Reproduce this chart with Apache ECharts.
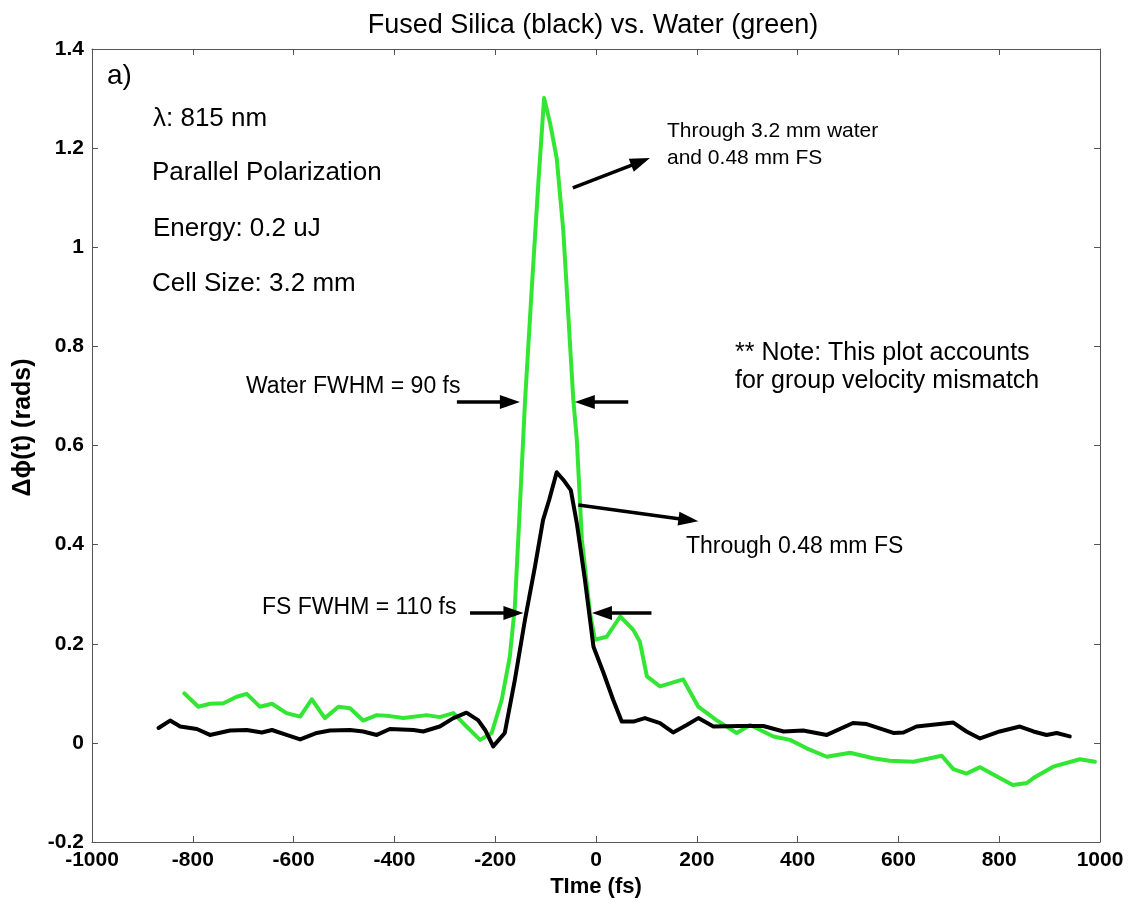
<!DOCTYPE html>
<html>
<head>
<meta charset="utf-8">
<script src="https://cdn.jsdelivr.net/npm/echarts@6/dist/echarts.min.js"></script>
<style>
  html, body { margin: 0; padding: 0; background: #ffffff; }
  #chart { width: 1136px; height: 907px; }
</style>
</head>
<body>
<div id="chart"></div>
<script>
// Fused silica (black trace): delay in fs and phase shift in rad
const fsTime = [-868, -845, -825, -792, -766, -726, -693, -663, -643, -614, -587, -554, -528, -488, -462, -435,
  -409, -362, -343, -310, -283, -257, -234, -220, -204, -181, -161, -141, -121, -105, -93, -78, -65, -50, -38,
  -22, -5, 15, 34, 51, 74, 97, 127, 153, 180, 203, 233, 286, 332, 372, 411, 458, 510, 537, 590, 610, 636, 682,
  709, 735, 762, 801, 841, 868, 894, 914, 940];
const fsPhase = [0.030, 0.045, 0.033, 0.028, 0.016, 0.025, 0.026, 0.021, 0.026, 0.016, 0.007, 0.020, 0.025, 0.026,
  0.023, 0.016, 0.028, 0.026, 0.023, 0.033, 0.050, 0.061, 0.046, 0.026, -0.007, 0.020, 0.127, 0.248, 0.356, 0.450,
  0.490, 0.546, 0.531, 0.510, 0.443, 0.329, 0.194, 0.141, 0.087, 0.043, 0.043, 0.050, 0.040, 0.021, 0.036, 0.050,
  0.033, 0.034, 0.034, 0.023, 0.025, 0.016, 0.040, 0.038, 0.020, 0.021, 0.033, 0.038, 0.041, 0.023, 0.009, 0.023,
  0.033, 0.023, 0.016, 0.020, 0.013];

// Water (green trace)
const waterTime = [-817, -789, -766, -739, -713, -693, -667, -643, -614, -587, -564, -538, -511, -488, -462, -435,
  -409, -382, -336, -310, -283, -257, -230, -207, -187, -171, -161, -151, -141, -128, -114, -103, -91, -78, -65,
  -45, -38, -28, -12, -2, 21, 48, 74, 87, 101, 127, 173, 203, 239, 279, 306, 352, 385, 418, 458, 504, 550, 583,
  630, 663, 686, 709, 735, 762, 801, 827, 855, 868, 907, 960, 990];
const waterPhase = [0.100, 0.073, 0.079, 0.080, 0.093, 0.099, 0.073, 0.079, 0.060, 0.053, 0.088, 0.050, 0.073,
  0.070, 0.045, 0.056, 0.054, 0.050, 0.056, 0.052, 0.060, 0.033, 0.006, 0.020, 0.087, 0.174, 0.275, 0.477, 0.686,
  0.908, 1.136, 1.301, 1.250, 1.180, 1.035, 0.692, 0.611, 0.410, 0.262, 0.208, 0.214, 0.255, 0.228, 0.204, 0.134,
  0.114, 0.128, 0.073, 0.046, 0.020, 0.036, 0.013, 0.006, -0.011, -0.028, -0.020, -0.031, -0.036, -0.038, -0.031,
  -0.026, -0.053, -0.062, -0.049, -0.071, -0.085, -0.081, -0.071, -0.048, -0.033, -0.038];

// Axis ranges
const xRange = { min: -1000, max: 1000, step: 200 };
const yRange = { min: -0.2, max: 1.4, step: 0.2 };

// Annotation arrows, given in (time, phase) coordinates: tail -> head
const arrows = [
  { from: [-46, 1.12], to: [107, 1.18] },
  { from: [-276, 0.688], to: [-151, 0.688] },
  { from: [64, 0.688], to: [-42, 0.688] },
  { from: [-35, 0.480], to: [203, 0.447] },
  { from: [-250, 0.262], to: [-144, 0.262] },
  { from: [110, 0.262], to: [-8, 0.262] }
];

const FONT = '"Liberation Sans", Arial, Helvetica, sans-serif';
const GREEN = '#33e633';

const pairs = (xs, ys) => xs.map((x, i) => [x, ys[i]]);

const chart = echarts.init(document.getElementById('chart'), null, { renderer: 'canvas' });

const axisLine = { show: true, onZero: false, lineStyle: { color: '#555', width: 1 } };
const tick = { show: true, inside: true, length: 6, lineStyle: { color: '#555', width: 1 } };

const texts = [
  { x: 107, y: 76, text: 'a)', size: 28 },
  { x: 153, y: 119, text: 'λ: 815 nm', size: 26 },
  { x: 152, y: 173, text: 'Parallel Polarization', size: 26 },
  { x: 153, y: 229, text: 'Energy: 0.2 uJ', size: 26 },
  { x: 152, y: 284, text: 'Cell Size: 3.2 mm', size: 26 },
  { x: 667, y: 131, text: 'Through 3.2 mm water', size: 21 },
  { x: 667, y: 158, text: 'and 0.48 mm FS', size: 21 },
  { x: 735, y: 353, text: '** Note: This plot accounts', size: 25 },
  { x: 735, y: 381, text: 'for group velocity mismatch', size: 25 },
  { x: 246, y: 387, text: 'Water FWHM = 90 fs', size: 23 },
  { x: 686, y: 547, text: 'Through 0.48 mm FS', size: 23 },
  { x: 262, y: 608, text: 'FS FWHM = 110 fs', size: 23 }
];

chart.setOption({
  animation: false,
  backgroundColor: '#ffffff',
  title: {
    text: 'Fused Silica (black) vs. Water (green)',
    left: 588,
    top: 7,
    textAlign: 'center',
    textStyle: { fontFamily: FONT, fontSize: 27, fontWeight: 'normal', color: '#000' }
  },
  grid: { left: 92, right: 36, top: 49, bottom: 65, containLabel: false },
  xAxis: [
    {
      type: 'value', position: 'bottom', min: xRange.min, max: xRange.max, interval: xRange.step,
      name: 'TIme (fs)', nameLocation: 'middle', nameGap: 33,
      nameTextStyle: { fontFamily: FONT, fontSize: 22, fontWeight: 'bold', color: '#000' },
      axisLine, axisTick: tick, splitLine: { show: false },
      axisLabel: { fontFamily: FONT, fontSize: 21, fontWeight: 'bold', color: '#000', margin: 8,
        formatter: v => String(v) }
    },
    {
      type: 'value', position: 'top', min: xRange.min, max: xRange.max, interval: xRange.step,
      axisLine, axisTick: tick, splitLine: { show: false }, axisLabel: { show: false }
    }
  ],
  yAxis: [
    {
      type: 'value', position: 'left', min: yRange.min, max: yRange.max, interval: yRange.step,
      name: 'Δϕ(t) (rads)', nameLocation: 'middle', nameGap: 56, nameRotate: 90,
      nameTextStyle: { fontFamily: FONT, fontSize: 25, fontWeight: 'bold', color: '#000', padding: [0, 0, 0, 36] },
      axisLine, axisTick: tick, splitLine: { show: false },
      axisLabel: { fontFamily: FONT, fontSize: 21, fontWeight: 'bold', color: '#000', margin: 8 }
    },
    {
      type: 'value', position: 'right', min: yRange.min, max: yRange.max, interval: yRange.step,
      axisLine, axisTick: tick, splitLine: { show: false }, axisLabel: { show: false }
    }
  ],
  series: [
    {
      name: 'Fused Silica', type: 'line', xAxisIndex: 0, yAxisIndex: 0,
      data: pairs(fsTime, fsPhase), showSymbol: false, symbol: 'none',
      lineStyle: { color: '#000', width: 4, join: 'round', cap: 'round' }, z: 3
    },
    {
      name: 'Water', type: 'line', xAxisIndex: 0, yAxisIndex: 0,
      data: pairs(waterTime, waterPhase), showSymbol: false, symbol: 'none',
      lineStyle: { color: GREEN, width: 4, join: 'round', cap: 'round' }, z: 2
    }
  ]
});

// Annotation texts and arrows (arrows placed through the axis scales)
const graphics = texts.map(t => ({
  type: 'text', x: t.x, y: t.y, silent: true, z: 10,
  style: { text: t.text, fontFamily: FONT, fontSize: t.size, fill: '#000', verticalAlign: 'middle', align: 'left' }
}));

const HEAD_LEN = 20, HEAD_W = 14;
arrows.forEach(a => {
  const p0 = chart.convertToPixel({ xAxisIndex: 0, yAxisIndex: 0 }, a.from);
  const p1 = chart.convertToPixel({ xAxisIndex: 0, yAxisIndex: 0 }, a.to);
  const dx = p1[0] - p0[0], dy = p1[1] - p0[1];
  const len = Math.hypot(dx, dy);
  const ux = dx / len, uy = dy / len;
  const bx = p1[0] - ux * HEAD_LEN, by = p1[1] - uy * HEAD_LEN;
  const px = -uy * HEAD_W / 2, py = ux * HEAD_W / 2;
  graphics.push({
    type: 'line', silent: true, z: 10,
    shape: { x1: p0[0], y1: p0[1], x2: bx + ux * 2, y2: by + uy * 2 },
    style: { stroke: '#000', lineWidth: 3.5 }
  });
  graphics.push({
    type: 'polygon', silent: true, z: 10,
    shape: { points: [[p1[0], p1[1]], [bx + px, by + py], [bx - px, by - py]] },
    style: { fill: '#000' }
  });
});

chart.setOption({ graphic: graphics });
</script>
</body>
</html>
